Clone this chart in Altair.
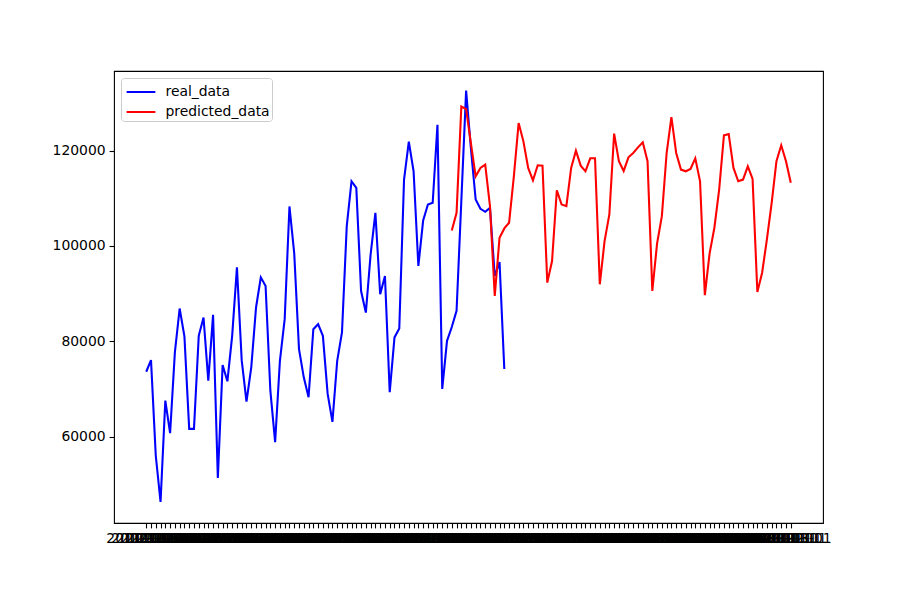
import altair as alt
import pandas as pd

# month labels used as categorical x ticks (all overlap, as in the reference)
dates = list(pd.date_range("2011-12-01", periods=136, freq="MS").strftime("%Y-%m-%d"))

real_values = [73620, 76070, 56000, 46300, 67560, 60730, 77680, 86890, 81030, 61630,
               61630, 81150, 85000, 71750, 85550, 51320, 75020, 71610, 81150, 95520,
               76000, 67340, 74540, 87100, 93430, 91620, 69640, 58850, 75920, 84650,
               108300, 98450, 78370, 72450, 68270, 82550, 83600, 81150, 68960, 63100,
               75920, 81850, 104160, 113580, 112200, 90560, 86040, 98240, 106960, 89870,
               93700, 69330, 80820, 82700, 113930, 121880, 115670, 95800, 105340, 108700,
               109060, 125440, 70020, 80110, 83000, 86380, 109500, 132600, 120500, 109750,
               107800, 107170, 108000, 93700, 96630, 74200]
real_dates = dates[:76]

pred_values = [103260, 106960, 129270, 128720, 121600, 114620, 116380, 117070, 108350, 89520,
               101740, 103680, 104870, 114620, 125790, 121950, 116380, 113790, 116930, 116860,
               92320, 96840, 111700, 108700, 108350, 116380, 120000, 116860, 115670, 118390,
               118390, 91970, 101030, 106610, 123560, 117780, 115740, 118600, 119510, 120690,
               121740, 117780, 90560, 100540, 106250, 119510, 127040, 119510, 116030, 115670,
               116170, 118390, 113580, 89670, 98450, 103830, 111840, 123200, 123490, 116380,
               113580, 113930, 116720, 114080, 90350, 94400, 101380, 109060, 117780, 121130,
               117780, 113250]
pred_dates = dates[64:136]

series_names = ["real_data", "predicted_data"]
series_colors = ["blue", "red"]
y_ticks = [60000, 80000, 100000, 120000]

df_real = pd.DataFrame({"date": real_dates, "value": real_values, "series": "real_data"})
df_pred = pd.DataFrame({"date": pred_dates, "value": pred_values, "series": "predicted_data"})

FONT = "DejaVu Sans"
FS = 13.9
W, H = 709, 452
margin = W * 0.05 / 1.1  # matplotlib-like 5% margins on each side

x_enc = alt.X("date:O", sort=dates,
              scale=alt.Scale(type="point", padding=0, domain=dates,
                              range=[margin, W - margin]),
              axis=alt.Axis(title=None, labelAngle=0, labelOverlap=False, labelFont=FONT,
                            labelFontSize=FS, labelColor="black", tickColor="black",
                            tickSize=4.9, tickWidth=1.1, labelPadding=4, domain=False,
                            labelBound=False, labelFlush=False))
y_enc = alt.Y("value:Q",
              scale=alt.Scale(domain=[41890, 136710], nice=False, zero=False),
              axis=alt.Axis(title=None, values=y_ticks, format="d", grid=False,
                            labelFont=FONT, labelFontSize=FS, labelColor="black",
                            tickColor="black", tickSize=4.9, tickWidth=1.1,
                            labelPadding=4, domain=False))
color_enc = alt.Color("series:N",
                      scale=alt.Scale(domain=series_names, range=series_colors),
                      legend=alt.Legend(title=None, orient="none", legendX=7, legendY=7,
                                        symbolType="M-1.25,0H1.25", symbolStrokeWidth=2,
                                        symbolSize=529, symbolOffset=6,
                                        labelFont=FONT, labelFontSize=FS,
                                        labelColor="black", strokeColor="#cccccc",
                                        fillColor="white", padding=1.5, cornerRadius=3,
                                        labelOffset=12, rowPadding=0))

real_line = alt.Chart(df_real).mark_line(strokeWidth=2.08).encode(x=x_enc, y=y_enc, color=color_enc)
pred_line = alt.Chart(df_pred).mark_line(strokeWidth=2.08).encode(x=x_enc, y=y_enc, color=color_enc)

chart = alt.layer(real_line, pred_line).properties(
    width=W, height=H,
    autosize=alt.AutoSizeParams(type="none"),
    padding={"left": 106, "top": 63, "right": 83, "bottom": 58},
    background="white",
).configure_view(stroke="black", strokeWidth=1.1)

chart.save("out.html", embed_options={"renderer": "svg", "actions": False})
